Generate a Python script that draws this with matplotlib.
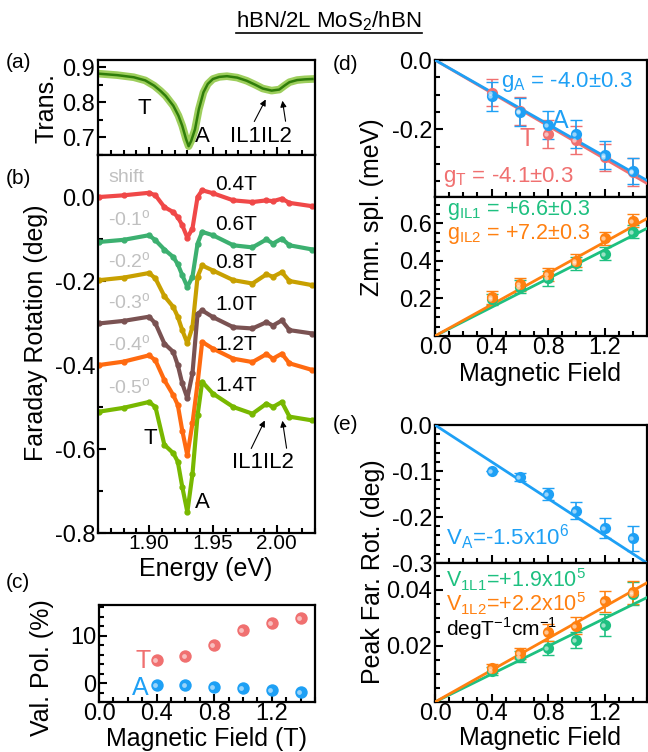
import matplotlib
matplotlib.use("Agg")
import matplotlib.pyplot as plt
import numpy as np
from matplotlib.ticker import AutoMinorLocator, MultipleLocator
from matplotlib.lines import Line2D

plt.rcParams['font.family'] = ['Liberation Sans', 'DejaVu Sans']
plt.rcParams['mathtext.fontset'] = 'custom'
plt.rcParams['mathtext.rm'] = 'Liberation Sans'
plt.rcParams['axes.linewidth'] = 1.6

W, H = 648, 752

# ---- panel (a): transmission ----
trans_e = [1.861, 1.875, 1.888, 1.897, 1.904, 1.909, 1.913, 1.919, 1.923, 1.926, 1.929, 1.931,
           1.933, 1.936, 1.939, 1.9426, 1.946, 1.950, 1.955, 1.961, 1.969, 1.9765, 1.983, 1.989,
           1.996, 2.002, 2.006, 2.010, 2.016, 2.022, 2.028]
trans_v = [0.881, 0.877, 0.871, 0.862, 0.847, 0.832, 0.818, 0.790, 0.762, 0.733, 0.695, 0.675,
           0.690, 0.723, 0.780, 0.828, 0.852, 0.866, 0.872, 0.874, 0.870, 0.861, 0.850, 0.839,
           0.833, 0.836, 0.847, 0.857, 0.863, 0.865, 0.866]

# ---- panel (b): Faraday rotation (shifted) ----
far_e = [1.861, 1.880, 1.900, 1.905, 1.912, 1.919, 1.9225, 1.926, 1.930, 1.934, 1.938, 1.9416,
         1.950, 1.966, 1.981, 1.992, 1.997, 2.004, 2.010, 2.028]
far_04 = [0.000, 0.004, 0.010, 0.004, -0.024, -0.036, -0.048, -0.067, -0.097, -0.075, 0.000, 0.016,
          0.009, -0.008, -0.012, -0.008, -0.010, -0.004, -0.014, -0.022]
far_06 = [-0.107, -0.102, -0.091, -0.103, -0.125, -0.143, -0.160, -0.186, -0.214, -0.190, -0.111, -0.083,
          -0.091, -0.115, -0.120, -0.101, -0.111, -0.099, -0.115, -0.125]
far_08 = [-0.198, -0.192, -0.181, -0.194, -0.236, -0.262, -0.285, -0.317, -0.348, -0.310, -0.190, -0.163,
          -0.175, -0.198, -0.206, -0.184, -0.190, -0.179, -0.200, -0.210]
far_10 = [-0.301, -0.295, -0.285, -0.301, -0.349, -0.369, -0.400, -0.444, -0.479, -0.420, -0.278, -0.270,
          -0.286, -0.310, -0.313, -0.298, -0.306, -0.294, -0.317, -0.325]
far_12 = [-0.400, -0.392, -0.377, -0.389, -0.436, -0.472, -0.495, -0.556, -0.615, -0.539, -0.444, -0.345,
          -0.361, -0.385, -0.393, -0.374, -0.385, -0.373, -0.396, -0.412]
far_14 = [-0.511, -0.502, -0.488, -0.500, -0.590, -0.610, -0.630, -0.690, -0.750, -0.660, -0.520, -0.440,
          -0.468, -0.500, -0.516, -0.492, -0.500, -0.488, -0.523, -0.532]
far_curves = [far_04, far_06, far_08, far_10, far_12, far_14]
far_fields = ['0.4T', '0.6T', '0.8T', '1.0T', '1.2T', '1.4T']
far_shifts = ['shift', '-0.1$^\\mathregular{o}$', '-0.2$^\\mathregular{o}$', '-0.3$^\\mathregular{o}$',
              '-0.4$^\\mathregular{o}$', '-0.5$^\\mathregular{o}$']
far_colors = ['#f04848', '#3cb070', '#c8a000', '#7a5252', '#ff6a10', '#78b800']

# ---- fields ----
field = [0.4, 0.6, 0.8, 1.0, 1.2, 1.4]

# ---- panel (c): valley polarization ----
pol_T = [4.9, 5.7, 8.0, 11.2, 12.6, 13.8]
pol_A = [-0.5, -0.5, -0.85, -1.1, -1.4, -1.8]

# ---- panel (d): Zeeman splitting ----
zs_A = [-0.104, -0.149, -0.188, -0.214, -0.274, -0.320]
zs_A_err = [0.042, 0.040, 0.040, 0.040, 0.040, 0.038]
zs_T = [-0.094, -0.147, -0.214, -0.231, -0.281, -0.322]
zs_T_err = [0.040, 0.040, 0.040, 0.040, 0.040, 0.040]
zs_IL1 = [0.195, 0.263, 0.307, 0.386, 0.438, 0.556]
zs_IL1_err = [0.030, 0.035, 0.040, 0.035, 0.035, 0.035]
zs_IL2 = [0.207, 0.275, 0.328, 0.400, 0.520, 0.614]
zs_IL2_err = [0.035, 0.035, 0.035, 0.035, 0.035, 0.035]
g_A, g_T, g_IL1, g_IL2 = -4.0, -4.1, 6.6, 7.2
mu_B = 0.05788  # meV/T

# ---- panel (e): peak Faraday rotation ----
pk_A = [-0.100, -0.113, -0.149, -0.186, -0.224, -0.246]
pk_A_err = [0.0, 0.008, 0.013, 0.018, 0.022, 0.027]
pk_IL1 = [0.011, 0.0162, 0.0192, 0.0221, 0.0275, 0.0386]
pk_IL1_err = [0.0015, 0.002, 0.0025, 0.003, 0.004, 0.004]
pk_IL2 = [0.012, 0.0174, 0.0248, 0.0271, 0.0358, 0.0390]
pk_IL2_err = [0.0015, 0.002, 0.003, 0.003, 0.0038, 0.004]
slope_A, slope_IL1, slope_IL2 = -0.200, 0.0248, 0.0283

RED = '#f07070'
BLUE = '#1ea0f5'
GREEN = '#1ec080'
ORANGE = '#ff8010'

TICK = 17
LAB = 18

fig = plt.figure(figsize=(6.48, 7.52), dpi=100)


def px_axes(left, top, right, bottom):
    return fig.add_axes([left / W, 1 - bottom / H, (right - left) / W, (bottom - top) / H])


def ftext(x, y, s, **kw):
    kw.setdefault('va', 'center')
    kw.setdefault('ha', 'left')
    return fig.text(x / W, 1 - y / H, s, **kw)


def style(ax, labels=True, xsize=TICK):
    ax.tick_params(which='both', direction='in', top=False, right=False, width=1.5, pad=2)
    ax.tick_params(axis='y', labelsize=TICK)
    ax.tick_params(axis='x', labelsize=xsize, pad=1)
    ax.tick_params(which='major', length=6)
    ax.tick_params(which='minor', length=3.5)
    if not labels:
        ax.tick_params(labelbottom=False)


def spheres(ax, x, y, color, size=80):
    ax.scatter(x, y, s=size, color=color, zorder=5, linewidths=0)
    ax.scatter(np.array(x) - 0.013, y, s=size * 0.15, color='white', alpha=0.55, zorder=6, linewidths=0)


def arrow(x0, y0, x1, y1):
    fig.add_artist(plt.Annotation('', xy=(x1 / W, 1 - y1 / H), xytext=(x0 / W, 1 - y0 / H),
                                  xycoords='figure fraction', textcoords='figure fraction',
                                  arrowprops=dict(arrowstyle='-|>', color='black', lw=0.8,
                                                  mutation_scale=9)))


# (a)
ax_a = px_axes(98, 60, 315, 155)
ax_a.plot(trans_e, trans_v, '-', color='#8cc63f', lw=5.5, alpha=0.85)
ax_a.plot(trans_e, trans_v, '-', color='#2f7d0a', lw=1.8)
ax_a.set_xlim(1.86, 2.03)
ax_a.set_ylim(0.65, 0.92)
ax_a.set_yticks([0.7, 0.8, 0.9])
ax_a.yaxis.set_minor_locator(AutoMinorLocator(2))
ax_a.xaxis.set_major_locator(MultipleLocator(0.05))
ax_a.xaxis.set_minor_locator(MultipleLocator(0.01))
style(ax_a, labels=False)
ax_a.set_yticklabels(['0.7', '0.8', '0.9'])

# (b)
ax_b = px_axes(98, 155, 315, 533)
field_y = [185, 225, 263, 305, 345, 385]
shift_y = [178, 220, 262, 303, 345, 388]
for vals, col, fl, sh, fy, sy in zip(far_curves, far_colors, far_fields, far_shifts, field_y, shift_y):
    ax_b.plot(far_e, vals, '-', color=col, lw=3, marker='o', ms=3.5)
    ftext(215, fy, fl, fontsize=15)
    ftext(108, sy, sh, fontsize=14, color='#c0c0c0')
ax_b.set_xlim(1.86, 2.03)
ax_b.set_ylim(-0.8, 0.1)
ax_b.set_yticks([-0.8, -0.6, -0.4, -0.2, 0.0])
ax_b.yaxis.set_minor_locator(AutoMinorLocator(2))
ax_b.xaxis.set_major_locator(MultipleLocator(0.05))
ax_b.xaxis.set_minor_locator(MultipleLocator(0.01))
ax_b.set_xticks([1.90, 1.95, 2.00])
ax_b.set_xticklabels(['1.90', '1.95', '2.00'])
style(ax_b, xsize=15)
ax_b.set_yticklabels(['-0.8', '-0.6', '-0.4', '-0.2', '0.0'])

# (c)
ax_c = px_axes(99, 605, 315, 702)
spheres(ax_c, field, pol_T, RED)
spheres(ax_c, field, pol_A, BLUE)
ax_c.set_xlim(0, 1.5)
ax_c.set_ylim(-4, 16.5)
ax_c.set_xticks([0.0, 0.4, 0.8, 1.2])
ax_c.xaxis.set_minor_locator(MultipleLocator(0.1))
ax_c.set_yticks([0, 10])
ax_c.yaxis.set_minor_locator(MultipleLocator(2))
style(ax_c)
ax_c.set_xticklabels(['0.0', '0.4', '0.8', '1.2'])

# (d)
xfit = np.array([0.0, 1.5])
ax_d1 = px_axes(435, 60, 647, 197)
ax_d1.errorbar(field, zs_T, yerr=zs_T_err, fmt='none', ecolor=RED, capsize=4, lw=1.2, zorder=3)
ax_d1.errorbar(field, zs_A, yerr=zs_A_err, fmt='none', ecolor=BLUE, capsize=4, lw=1.2, zorder=3)
ax_d1.plot(xfit, g_T * mu_B * xfit, color=RED, lw=2, zorder=4)
ax_d1.plot(xfit, g_A * mu_B * xfit, color=BLUE, lw=2, zorder=4)
spheres(ax_d1, field, zs_T, RED, 65)
spheres(ax_d1, field, zs_A, BLUE, 65)
ax_d1.set_xlim(0, 1.5)
ax_d1.set_ylim(-0.395, 0.0)
ax_d1.set_yticks([-0.2, 0.0])
ax_d1.set_yticklabels(['-0.2', '0.0'])
ax_d1.yaxis.set_minor_locator(MultipleLocator(0.05))
ax_d1.set_xticks([0.0, 0.4, 0.8, 1.2])
ax_d1.xaxis.set_minor_locator(MultipleLocator(0.1))
style(ax_d1, labels=False)

ax_d2 = px_axes(435, 197, 647, 336)
ax_d2.errorbar(field, zs_IL1, yerr=zs_IL1_err, fmt='none', ecolor=GREEN, capsize=4, lw=1.2, zorder=3)
ax_d2.errorbar(field, zs_IL2, yerr=zs_IL2_err, fmt='none', ecolor=ORANGE, capsize=4, lw=1.2, zorder=3)
ax_d2.plot(xfit, g_IL1 * mu_B * xfit, color=GREEN, lw=2, zorder=4)
ax_d2.plot(xfit, g_IL2 * mu_B * xfit, color=ORANGE, lw=2, zorder=4)
spheres(ax_d2, field, zs_IL1, GREEN, 65)
spheres(ax_d2, field, zs_IL2, ORANGE, 65)
ax_d2.set_xlim(0, 1.5)
ax_d2.set_ylim(0, 0.74)
ax_d2.set_yticks([0.2, 0.4, 0.6])
ax_d2.set_yticklabels(['0.2', '0.4', '0.6'])
ax_d2.yaxis.set_minor_locator(MultipleLocator(0.05))
ax_d2.set_xticks([0.0, 0.4, 0.8, 1.2])
ax_d2.set_xticklabels(['0.0', '0.4', '0.8', '1.2'])
ax_d2.xaxis.set_minor_locator(MultipleLocator(0.1))
style(ax_d2)

# (e)
ax_e1 = px_axes(435, 425, 647, 563)
ax_e1.errorbar(field, pk_A, yerr=pk_A_err, fmt='none', ecolor=BLUE, capsize=4, lw=1.2, zorder=3)
ax_e1.plot(xfit, slope_A * xfit, color=BLUE, lw=2, zorder=4)
spheres(ax_e1, field, pk_A, BLUE, 65)
ax_e1.set_xlim(0, 1.5)
ax_e1.set_ylim(-0.3, 0.0)
ax_e1.set_yticks([-0.3, -0.2, -0.1, 0.0])
ax_e1.set_yticklabels(['-0.3', '-0.2', '-0.1', '0.0'])
ax_e1.yaxis.set_minor_locator(MultipleLocator(0.02))
ax_e1.set_xticks([0.0, 0.4, 0.8, 1.2])
ax_e1.xaxis.set_minor_locator(MultipleLocator(0.1))
style(ax_e1, labels=False)

ax_e2 = px_axes(435, 563, 647, 702)
ax_e2.errorbar(field, pk_IL1, yerr=pk_IL1_err, fmt='none', ecolor=GREEN, capsize=4, lw=1.2, zorder=3)
ax_e2.errorbar(field, pk_IL2, yerr=pk_IL2_err, fmt='none', ecolor=ORANGE, capsize=4, lw=1.2, zorder=3)
ax_e2.plot(xfit, slope_IL1 * xfit, color=GREEN, lw=2, zorder=4)
ax_e2.plot(xfit, slope_IL2 * xfit, color=ORANGE, lw=2, zorder=4)
spheres(ax_e2, field, pk_IL1, GREEN, 65)
spheres(ax_e2, field, pk_IL2, ORANGE, 65)
ax_e2.set_xlim(0, 1.5)
ax_e2.set_ylim(0, 0.0495)
ax_e2.set_yticks([0.02, 0.04])
ax_e2.set_yticklabels(['0.02', '0.04'])
ax_e2.yaxis.set_minor_locator(MultipleLocator(0.005))
ax_e2.set_xticks([0.0, 0.4, 0.8, 1.2])
ax_e2.set_xticklabels(['0.0', '0.4', '0.8', '1.2'])
ax_e2.xaxis.set_minor_locator(MultipleLocator(0.1))
style(ax_e2)

# axis labels
ftext(46, 108, 'Trans.', fontsize=LAB, rotation=90, ha='center')
ftext(36, 333, 'Faraday Rotation (deg)', fontsize=LAB, rotation=90, ha='center')
ftext(206, 569, 'Energy (eV)', fontsize=LAB, ha='center')
ftext(42, 668, 'Val. Pol. (%)', fontsize=LAB, rotation=90, ha='center')
ftext(206, 739, 'Magnetic Field (T)', fontsize=LAB, ha='center')
ftext(372, 207, 'Zmn. spl. (meV)', fontsize=LAB, rotation=90, ha='center')
ftext(540, 374, 'Magnetic Field', fontsize=LAB, ha='center')
ftext(373, 572, 'Peak Far. Rot. (deg)', fontsize=LAB, rotation=90, ha='center')
ftext(540, 738, 'Magnetic Field', fontsize=LAB, ha='center')

# panel letters
for lbl, x, y in [('(a)', 6, 63), ('(b)', 6, 179), ('(c)', 6, 582), ('(d)', 333, 64), ('(e)', 333, 425)]:
    ftext(x, y, lbl, fontsize=15)

# annotations (a)
ftext(138, 108, 'T', fontsize=16)
ftext(195, 137, 'A', fontsize=16)
ftext(230, 137, 'IL1IL2', fontsize=16)
arrow(253, 124, 267, 97)
arrow(286, 124, 282, 98)
# annotations (b)
ftext(143, 438, 'T', fontsize=16)
ftext(195, 502, 'A', fontsize=16)
ftext(232, 462, 'IL1IL2', fontsize=16)
arrow(250, 451, 266, 418)
arrow(287, 451, 282, 418)
# annotations (c)
ftext(136, 661, 'T', fontsize=18, color=RED)
ftext(132, 688, 'A', fontsize=18, color=BLUE)

# annotations (d)
ftext(501, 82, 'g$_\\mathregular{A}$ = -4.0±0.3', fontsize=16, color=BLUE)
ftext(520, 139, 'T', fontsize=18, color=RED)
ftext(552, 121, 'A', fontsize=18, color=BLUE)
ftext(443, 177, 'g$_\\mathregular{T}$ = -4.1±0.3', fontsize=16, color=RED)
ftext(447, 210, 'g$_\\mathregular{IL1}$ = +6.6±0.3', fontsize=15.5, color=GREEN)
ftext(447, 234, 'g$_\\mathregular{IL2}$ = +7.2±0.3', fontsize=15.5, color=ORANGE)

# annotations (e)
ftext(446, 537, 'V$_\\mathregular{A}$=-1.5x10$^\\mathregular{6}$', fontsize=16, color=BLUE)
ftext(446, 580, 'V$_\\mathregular{1L1}$=+1.9x10$^\\mathregular{5}$', fontsize=15.5, color=GREEN)
ftext(446, 604, 'V$_\\mathregular{1L2}$=+2.2x10$^\\mathregular{5}$', fontsize=15.5, color=ORANGE)
ftext(446, 629, 'degT$^\\mathregular{-1}$cm$^\\mathregular{-1}$', fontsize=15, color='black')

# underlined title
title = ftext(329, 21, 'hBN/2L MoS$_\\mathregular{2}$/hBN', fontsize=16, ha='center')
fig.canvas.draw()
bb = title.get_window_extent().transformed(fig.transFigure.inverted())
fig.add_artist(Line2D([bb.x0, bb.x1], [1 - 33 / H, 1 - 33 / H], color='black', lw=1.2))

fig.savefig('out.png', dpi=100)
